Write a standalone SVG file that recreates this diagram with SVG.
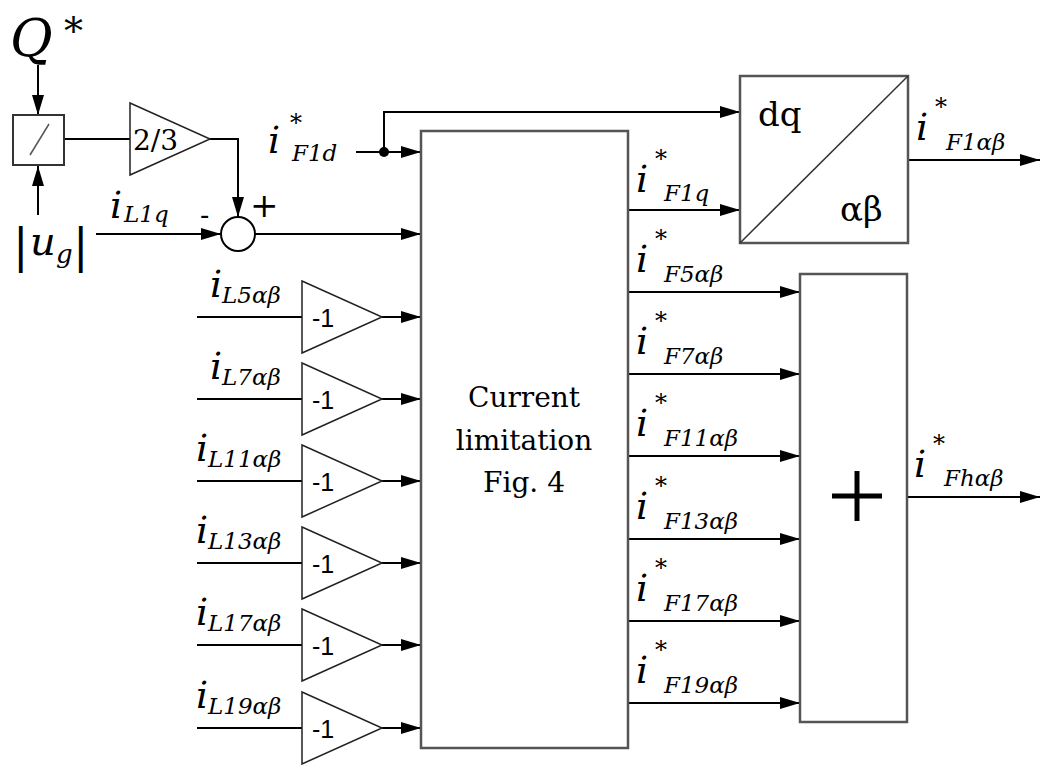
<svg xmlns="http://www.w3.org/2000/svg" width="1040" height="765" viewBox="0 0 1040 765">
<defs>
<marker id="ar" markerUnits="userSpaceOnUse" markerWidth="20" markerHeight="12" refX="20" refY="6" orient="auto">
<path d="M0,0 L20,6 L0,12 z" fill="#000"/>
</marker>
</defs>
<style>
.ln{stroke:#000;stroke-width:2;fill:none}
.ar{marker-end:url(#ar)}
.box{fill:#fff;stroke:#555;stroke-width:2.5}
.tri{fill:#fff;stroke:#222;stroke-width:1.5}
.m{font-family:'DejaVu Serif',serif;font-style:italic;fill:#000}
.r{font-family:'DejaVu Serif',serif;fill:#000}
.s{font-family:'Liberation Sans',Arial,sans-serif;fill:#000}
.big{font-size:38px}
.sub{font-size:23px}
.ast{font-size:24px}
.g1{font-size:25px}
</style>
<rect width="1040" height="765" fill="#fff"/>

<g id="connectors">
<line class="ln ar" x1="38" y1="65" x2="38" y2="115"/>
<line class="ln ar" x1="38" y1="215" x2="38" y2="166"/>
<line class="ln" x1="64" y1="139" x2="130" y2="139"/>
<polyline class="ln ar" points="210,139 238,139 238,217"/>
<line class="ln ar" x1="96" y1="234" x2="221" y2="234"/>
<line class="ln ar" x1="255" y1="234" x2="421" y2="234"/>
<line class="ln ar" x1="356" y1="152" x2="421" y2="152"/>
<polyline class="ln ar" points="384,152 384,112 740,112"/>
<circle cx="384" cy="152" r="5" fill="#000"/>
<line class="ln ar" x1="628" y1="210" x2="740" y2="210"/>
<line class="ln ar" x1="908" y1="160" x2="1040" y2="160"/>
<line class="ln ar" x1="907" y1="497" x2="1040" y2="497"/>
<line class="ln ar" x1="628" y1="292" x2="800" y2="292"/>
<line class="ln ar" x1="628" y1="374" x2="800" y2="374"/>
<line class="ln ar" x1="628" y1="456" x2="800" y2="456"/>
<line class="ln ar" x1="628" y1="539" x2="800" y2="539"/>
<line class="ln ar" x1="628" y1="621" x2="800" y2="621"/>
<line class="ln ar" x1="628" y1="703" x2="800" y2="703"/>
<line class="ln" x1="197" y1="317" x2="302" y2="317"/>
<line class="ln" x1="197" y1="399" x2="302" y2="399"/>
<line class="ln" x1="197" y1="481" x2="302" y2="481"/>
<line class="ln" x1="197" y1="563" x2="302" y2="563"/>
<line class="ln" x1="197" y1="645" x2="302" y2="645"/>
<line class="ln" x1="197" y1="728" x2="302" y2="728"/>
<line class="ln ar" x1="382" y1="317" x2="421" y2="317"/>
<line class="ln ar" x1="382" y1="399" x2="421" y2="399"/>
<line class="ln ar" x1="382" y1="481" x2="421" y2="481"/>
<line class="ln ar" x1="382" y1="563" x2="421" y2="563"/>
<line class="ln ar" x1="382" y1="645" x2="421" y2="645"/>
<line class="ln ar" x1="382" y1="728" x2="421" y2="728"/>
</g>

<g id="Qstar">
<text class="m" x="10" y="56" font-size="52">Q</text>
<text class="r" x="64" y="44" font-size="38">*</text>
</g>
<g id="ug">
<text class="r" x="13" y="262" font-size="46">|</text>
<text class="m" x="30" y="255" font-size="40">u</text>
<text class="m" x="56" y="263" font-size="26">g</text>
<text class="r" x="73" y="262" font-size="46">|</text>
</g>
<g id="divider">
<rect x="13" y="115" width="51" height="50" fill="#fff" stroke="#333" stroke-width="2"/>
<line x1="30" y1="155" x2="49" y2="124" stroke="#555" stroke-width="1.5"/>
</g>
<g id="gain23">
<polygon class="tri" points="130,103 210,139 130,175"/>
<text class="r" x="133" y="150" font-size="28">2/3</text>
</g>
<g id="sum">
<circle cx="238" cy="234" r="17" fill="#fff" stroke="#000" stroke-width="2"/>
<text class="s" x="200" y="224" font-size="28">-</text>
<text class="r" x="250" y="217" font-size="34">+</text>
</g>
<g id="iL1q">
<text class="m big" x="110" y="218">i</text>
<text class="m sub" x="124" y="222">L1q</text>
</g>
<g id="iF1d">
<text class="m big" x="268" y="153">i</text>
<text class="r ast" x="290" y="131">*</text>
<text class="m sub" x="292" y="161">F1d</text>
</g>

<g id="currentLimitation">
<rect class="box" x="421" y="131" width="207" height="617"/>
<text class="r" x="524" y="407" font-size="28" text-anchor="middle">Current</text>
<text class="r" x="524" y="450" font-size="28" text-anchor="middle">limitation</text>
<text class="r" x="524" y="492" font-size="28" text-anchor="middle">Fig. 4</text>
</g>

<g id="dqab">
<rect class="box" x="740" y="76" width="168" height="167"/>
<line x1="740" y1="243" x2="908" y2="76" stroke="#333" stroke-width="1.5"/>
<text class="r" x="758" y="126" font-size="34">dq</text>
<text class="r" x="840" y="221" font-size="34">αβ</text>
</g>

<g id="harmSum">
<rect class="box" x="800" y="274" width="107" height="448"/>
<line x1="832" y1="496" x2="882" y2="496" stroke="#000" stroke-width="5"/>
<line x1="857" y1="471" x2="857" y2="521" stroke="#000" stroke-width="5"/>
</g>

<g id="negGains">
<polygon class="tri" points="302,281 382,317 302,353"/><text class="s g1" x="312" y="327">-1</text>
<polygon class="tri" points="302,363 382,399 302,435"/><text class="s g1" x="312" y="409">-1</text>
<polygon class="tri" points="302,445 382,481 302,517"/><text class="s g1" x="312" y="491">-1</text>
<polygon class="tri" points="302,527 382,563 302,599"/><text class="s g1" x="312" y="573">-1</text>
<polygon class="tri" points="302,609 382,645 302,681"/><text class="s g1" x="312" y="655">-1</text>
<polygon class="tri" points="302,692 382,728 302,764"/><text class="s g1" x="312" y="738">-1</text>
</g>

<g id="inputLabels">
<text class="m big" x="210" y="297">i</text><text class="m sub" x="222" y="303">L5αβ</text>
<text class="m big" x="210" y="379">i</text><text class="m sub" x="222" y="385">L7αβ</text>
<text class="m big" x="196" y="461">i</text><text class="m sub" x="208" y="467">L11αβ</text>
<text class="m big" x="196" y="543">i</text><text class="m sub" x="208" y="549">L13αβ</text>
<text class="m big" x="196" y="625">i</text><text class="m sub" x="208" y="631">L17αβ</text>
<text class="m big" x="196" y="708">i</text><text class="m sub" x="208" y="714">L19αβ</text>
</g>

<g id="outputLabels">
<text class="m big" x="636" y="192">i</text><text class="r ast" x="655" y="167">*</text><text class="m sub" x="664" y="201">F1q</text>
<text class="m big" x="636" y="272">i</text><text class="r ast" x="655" y="247">*</text><text class="m sub" x="664" y="282">F5αβ</text>
<text class="m big" x="636" y="354">i</text><text class="r ast" x="655" y="329">*</text><text class="m sub" x="664" y="364">F7αβ</text>
<text class="m big" x="636" y="436">i</text><text class="r ast" x="655" y="411">*</text><text class="m sub" x="664" y="446">F11αβ</text>
<text class="m big" x="636" y="519">i</text><text class="r ast" x="655" y="494">*</text><text class="m sub" x="664" y="529">F13αβ</text>
<text class="m big" x="636" y="601">i</text><text class="r ast" x="655" y="576">*</text><text class="m sub" x="664" y="611">F17αβ</text>
<text class="m big" x="636" y="683">i</text><text class="r ast" x="655" y="658">*</text><text class="m sub" x="664" y="693">F19αβ</text>
<text class="m big" x="916" y="140">i</text><text class="r ast" x="935" y="115">*</text><text class="m sub" x="946" y="150">F1αβ</text>
<text class="m big" x="914" y="477">i</text><text class="r ast" x="933" y="452">*</text><text class="m sub" x="944" y="486">Fhαβ</text>
</g>
</svg>
